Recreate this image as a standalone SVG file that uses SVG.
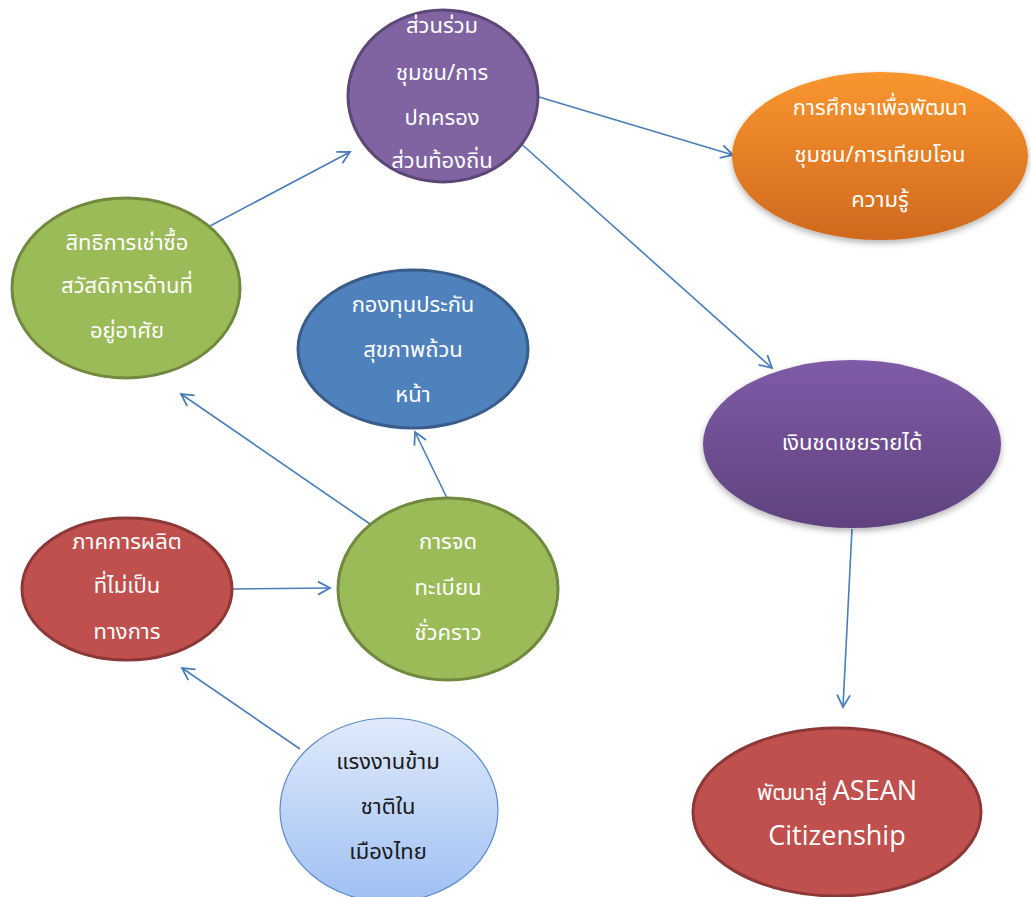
<svg xmlns="http://www.w3.org/2000/svg" width="1031" height="897" viewBox="0 0 1031 897">
<defs>
<style>
.t{font-family:'Noto Sans Thai','Noto Sans','Liberation Sans',sans-serif;font-size:22px;fill:#ffffff;text-anchor:middle}
.dark{fill:#1a1a1a}
.en{font-family:'Open Sans','Liberation Sans',sans-serif;font-size:27px;fill:#ffffff}
.green{fill:#9BBB59;stroke:#71893F;stroke-width:3}
.purple{fill:#8064A2;stroke:#5C4776;stroke-width:3}
.blue{fill:#4F81BD;stroke:#385D8A;stroke-width:3}
.red{fill:#C0504D;stroke:#8C3836;stroke-width:3}
.conn line{stroke:#4A7EBB;stroke-width:1.6;fill:none;marker-end:url(#ah)}
</style>
<marker id="ah" markerUnits="userSpaceOnUse" markerWidth="16" markerHeight="16" refX="13" refY="7" orient="auto" viewBox="0 0 16 14">
<path d="M1,0.5 L13,7 L1,13.5" fill="none" stroke="#4A7EBB" stroke-width="1.8"/>
</marker>
<linearGradient id="gOrange" x1="0" y1="0" x2="0" y2="1">
<stop offset="0" stop-color="#FA962F"/>
<stop offset="1" stop-color="#CF691E"/>
</linearGradient>
<linearGradient id="gPurple" x1="0" y1="0" x2="0" y2="1">
<stop offset="0" stop-color="#7F5BA7"/>
<stop offset="1" stop-color="#5E427D"/>
</linearGradient>
<linearGradient id="gLight" x1="0" y1="0" x2="0" y2="1">
<stop offset="0" stop-color="#E0EAFB"/>
<stop offset="1" stop-color="#9FC0F3"/>
</linearGradient>
<filter id="sh" x="-10%" y="-10%" width="120%" height="130%">
<feDropShadow dx="0" dy="3" stdDeviation="3" flood-color="#000" flood-opacity="0.3"/>
</filter>
</defs>
<rect width="1031" height="897" fill="#ffffff"/>

<g id="connectors" class="conn">
<line x1="210" y1="226" x2="350" y2="152"/>
<line x1="539" y1="97" x2="733" y2="155"/>
<line x1="508" y1="132" x2="772" y2="368"/>
<line x1="852" y1="529" x2="843" y2="707"/>
<line x1="370" y1="524" x2="181" y2="394"/>
<line x1="447" y1="498" x2="415" y2="432"/>
<line x1="232" y1="589" x2="330" y2="588"/>
<line x1="300" y1="749" x2="182" y2="668"/>
</g>

<g id="node-community">
<ellipse class="purple" cx="443" cy="96" rx="95" ry="86"/>
<text class="t" x="442" y="33">ส่วนร่วม</text>
<text class="t" x="442" y="80">ชุมชน/การ</text>
<text class="t" x="442" y="125">ปกครอง</text>
<text class="t" x="442" y="168">ส่วนท้องถิ่น</text>
</g>

<g id="node-education">
<ellipse cx="880" cy="156" rx="148" ry="84" fill="url(#gOrange)" filter="url(#sh)"/>
<text class="t" x="880" y="115">การศึกษาเพื่อพัฒนา</text>
<text class="t" x="880" y="162">ชุมชน/การเทียบโอน</text>
<text class="t" x="880" y="207">ความรู้</text>
</g>

<g id="node-housing">
<ellipse class="green" cx="126" cy="288" rx="114" ry="90"/>
<text class="t" x="127" y="250">สิทธิการเช่าซื้อ</text>
<text class="t" x="127" y="293">สวัสดิการด้านที่</text>
<text class="t" x="127" y="338">อยู่อาศัย</text>
</g>

<g id="node-health">
<ellipse class="blue" cx="413" cy="349" rx="115" ry="79"/>
<text class="t" x="413" y="312">กองทุนประกัน</text>
<text class="t" x="413" y="357">สุขภาพถ้วน</text>
<text class="t" x="413" y="402">หน้า</text>
</g>

<g id="node-income">
<ellipse cx="852" cy="444" rx="149" ry="84" fill="url(#gPurple)" filter="url(#sh)"/>
<text class="t" x="852" y="450">เงินชดเชยรายได้</text>
</g>

<g id="node-informal">
<ellipse class="red" cx="127" cy="589" rx="105" ry="71"/>
<text class="t" x="127" y="549">ภาคการผลิต</text>
<text class="t" x="127" y="593">ที่ไม่เป็น</text>
<text class="t" x="127" y="639">ทางการ</text>
</g>

<g id="node-registration">
<ellipse class="green" cx="448" cy="589" rx="110" ry="91"/>
<text class="t" x="448" y="549">การจด</text>
<text class="t" x="448" y="595">ทะเบียน</text>
<text class="t" x="448" y="640">ชั่วคราว</text>
</g>

<g id="node-migrant">
<ellipse cx="389" cy="810" rx="109" ry="92" fill="url(#gLight)" stroke="#5B8ACB" stroke-width="1.2"/>
<text class="t dark" x="388" y="769">แรงงานข้าม</text>
<text class="t dark" x="388" y="814">ชาติใน</text>
<text class="t dark" x="388" y="859">เมืองไทย</text>
</g>

<g id="node-asean">
<ellipse class="red" cx="837" cy="812" rx="144" ry="84"/>
<text class="t" x="837" y="800"><tspan>พัฒนาสู่ </tspan><tspan class="en">ASEAN</tspan></text>
<text class="t en" x="837" y="845">Citizenship</text>
</g>
</svg>
